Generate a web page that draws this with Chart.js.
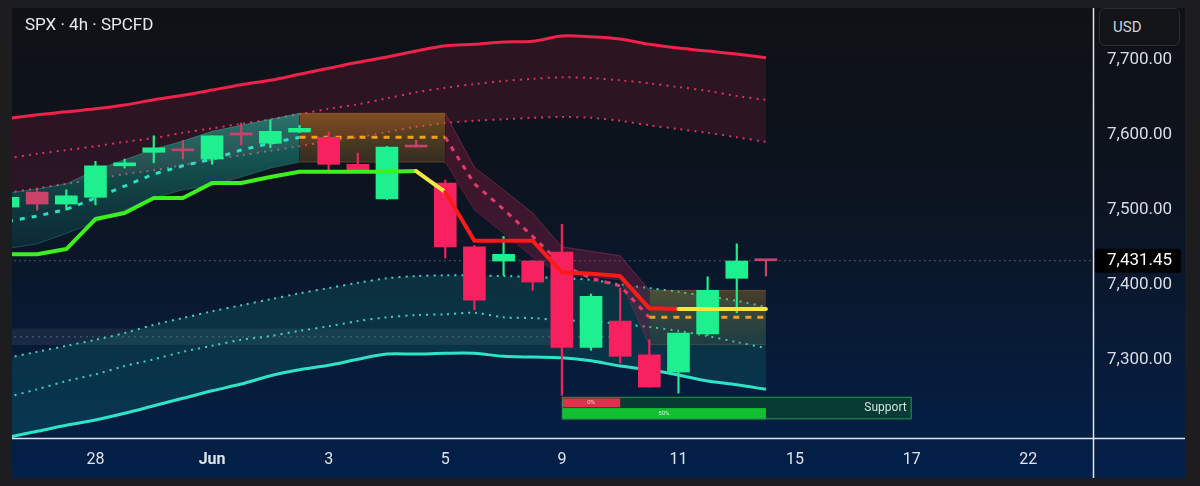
<!DOCTYPE html>
<html>
<head>
<meta charset="utf-8">
<script src="https://cdn.jsdelivr.net/npm/chart.js@4.4.1/dist/chart.umd.min.js"></script>
<style>
html,body{margin:0;padding:0;width:1200px;height:486px;overflow:hidden;background:#1d1d1f;font-family:Roboto,"Noto Sans",sans-serif}
#wrap{position:absolute;left:12px;top:8px;width:1173px;height:470px;background:linear-gradient(#0f1115 0%,#0c1420 40%,#03204a 100%)}
#title{position:absolute;left:13px;top:6px;color:#e8eaed;font-size:17px;white-space:nowrap}
#usd{position:absolute;left:1087px;top:0;width:79px;height:36px;background:#121417;border:1px solid #2a2d33;border-radius:6px;color:#d0d4da;font-size:15px;line-height:36px}
#usd span{margin-left:13px}
</style>
</head>
<body>
<div id="wrap">
  <canvas id="chart"></canvas>
  <div id="title">SPX · 4h · SPCFD</div>
  <div id="usd"><span>USD</span></div>
</div>
<script>
// 4h bars, index 0 = first bar on screen (May 27, 2nd session)
var opens  = [7503,7523,7507,7516,7558,7576,7580,7567,7602,7588,7603,7596,7560,7514,7584,7535,7450,7431,7431,7443,7316,7351,7306,7283,7334,7408,7432.4];
var highs  = [7522,7528,7526,7564,7567,7598,7592,7598,7615,7619,7612,7603,7575,7584,7592,7539,7452,7464,7432,7480,7387,7395,7326,7335,7410,7454,7432.4];
var lows   = [7499,7499,7499,7506,7555,7562,7567,7560,7586,7582,7602,7551,7552,7513,7583,7435,7366,7412,7392,7252,7312,7295,7263,7255,7332,7362,7411];
var closes = [7516,7507,7518,7558,7562,7582,7578,7598,7599,7604,7608,7560,7552,7583,7583,7450,7379,7440,7403,7316,7384,7304,7263,7335,7392,7431,7431.45];
var lastPrice = 7431.45;

var tickIdx    = [3,7,11,15,19,23,27,31,35];
var tickLabels = ['28','Jun','3','5','9','11','15','17','22'];
var priceTicks = [7300,7400,7500,7600,7700];

// upper envelope (red) and lower envelope (teal)
var upperLine = [7621,7626,7630,7634,7639,7646,7652,7659,7666,7672,7680,7688,7696,7703,7711,7718,7720,7723,7724,7731,7730,7727,7720,7715,7711,7707,7702];
var upperMid  = [7568,7574,7579,7584,7590,7595,7602,7608,7614,7620,7627,7634,7640,7648,7656,7662,7667,7671,7674,7676,7675,7672,7668,7663,7658,7651,7646];
var upperLow  = [7522,7528,7534,7540,7547,7552,7559,7566,7572,7578,7584,7591,7596,7603,7610,7615,7618,7620,7622,7623,7622,7618,7612,7607,7602,7596,7590];
var lowerLine = [7196,7204,7212,7219,7228,7238,7248,7258,7267,7278,7286,7292,7300,7307,7307,7308,7308,7304,7303,7302,7298,7291,7286,7279,7271,7266,7260];
var lowerMid  = [7250,7260,7271,7280,7291,7300,7310,7318,7326,7331,7338,7344,7351,7356,7359,7360,7362,7356,7355,7352,7351,7347,7343,7338,7331,7323,7315];
var lowerHigh = [7302,7310,7318,7326,7335,7346,7355,7364,7372,7380,7388,7395,7402,7408,7411,7412,7412,7411,7410,7408,7406,7400,7395,7390,7384,7378,7370];

// trailing stop and its state (1 long, 0 flip, -1 short)
var trendLine = [7440,7440,7447,7487,7495,7515,7515,7535,7535,7543,7550,7550,7550,7550,7551,7523,7458,7458,7458,7416,7414,7411,7368,7367,7367,7367,7367];
var trendSide = [1,1,1,1,1,1,1,1,1,1,1,1,1,1,0,-1,-1,-1,-1,-1,-1,-1,-1,0,0,0,0];

// rising channel, bars 0..10
var channelTop = [7522,7527,7534,7552,7566,7580,7591,7604,7612,7620,7628];
var channelMid = [7484,7491,7500,7515,7531,7547,7558,7567,7579,7588,7596];
var channelBot = [7448,7454,7468,7483,7499,7515,7526,7532,7543,7555,7563];

// falling band, bars 15..22
var dropTop = [7628,7556,7526,7495,7450,7444,7438,7392];
var dropMid = [7596,7534,7500,7464,7426,7408,7398,7356];
var dropBot = [7563,7499,7468,7436,7412,7410,7406,7319];

// zones: [first bar, last bar, top, mid, bottom]
var zoneA = [10,15,7628,7596,7563];
var zoneB = [22,26,7392,7356,7320];
var grayZone = [0,19,7341,7330,7319];

// support meter: [first bar, last bar, top, bottom]
var supportBox = [19,31,7250,7220];
var meterSell  = [19,21,7248,7236];
var meterBuy   = [19,26,7235,7220];
var meterText  = ['0%','50%','Support'];

function pts(values, start) {
  return values.map(function (v, i) { return {x: start + i, y: v}; });
}
function flat(first, last, v) {
  return [{x: first, y: v}, {x: last, y: v}];
}
function line(data, opts) {
  return Object.assign({type: 'line', data: data, pointRadius: 0, borderWidth: 1, fill: false, tension: 0}, opts);
}
function vGrad(top, bottom, c0, c1) {
  return function (c) {
    var ch = c.chart;
    if (!ch.chartArea) return c0;
    var y = ch.scales.y;
    var g = ch.ctx.createLinearGradient(0, y.getPixelForValue(top), 0, y.getPixelForValue(bottom));
    g.addColorStop(0, c0);
    g.addColorStop(1, c1);
    return g;
  };
}

var up = '#1ff08f', down = '#f7215f', muted = '#c8426a';
var bodyColors = opens.map(function (o, i) {
  if (closes[i] >= o) return up;
  return Math.abs(closes[i] - o) < 4 || i < 2 ? muted : down;
});

var datasets = [];
// gray zone
datasets.push(line(flat(grayZone[0], grayZone[1], grayZone[2]), {borderWidth: 0, fill: '+1', backgroundColor: 'rgba(140,150,165,0.13)', order: 100}));
datasets.push(line(flat(grayZone[0], grayZone[1], grayZone[4]), {borderWidth: 0, order: 100}));
datasets.push(line(flat(grayZone[0], 21, grayZone[3]), {borderColor: 'rgba(150,160,175,0.5)', borderDash: [2, 4], order: 99}));
// upper envelope
datasets.push(line(pts(upperLine, 0), {borderColor: '#f0224c', borderWidth: 3, tension: 0.3, fill: '+1', backgroundColor: 'rgba(105,26,52,0.33)', order: 90}));
datasets.push(line(pts(upperLow, 0), {borderColor: '#d8345f', borderWidth: 2, borderDash: [2, 5], tension: 0.3, order: 89}));
datasets.push(line(pts(upperMid, 0), {borderColor: '#d8345f', borderWidth: 2, borderDash: [2, 5], tension: 0.3, order: 89}));
// lower envelope
datasets.push(line(pts(lowerLine, 0), {borderColor: '#2fe3c6', borderWidth: 3, tension: 0.3, fill: '+1', backgroundColor: 'rgba(22,150,135,0.2)', order: 90}));
datasets.push(line(pts(lowerHigh, 0), {borderColor: '#42d2bc', borderWidth: 2, borderDash: [2, 5], tension: 0.3, order: 89}));
datasets.push(line(pts(lowerMid, 0), {borderColor: '#42d2bc', borderWidth: 2, borderDash: [2, 5], tension: 0.3, order: 89}));
// last price
datasets.push(line(flat(-1, 40, lastPrice), {borderColor: 'rgba(90,105,125,0.8)', borderDash: [2, 3], order: 85}));
// rising channel
datasets.push(line(pts(channelTop, 0), {borderColor: 'rgba(70,200,180,0.35)', fill: '+1', backgroundColor: vGrad(7628, 7450, 'rgba(40,210,180,0.5)', 'rgba(20,120,115,0.2)'), order: 80}));
datasets.push(line(pts(channelBot, 0), {borderColor: 'rgba(70,200,180,0.3)', order: 80}));
// zones
datasets.push(line(flat(zoneA[0], zoneA[1], zoneA[2]), {borderColor: 'rgba(200,140,60,0.35)', fill: '+1', backgroundColor: vGrad(zoneA[2], zoneA[4], 'rgba(195,125,30,0.55)', 'rgba(140,100,45,0.32)'), order: 80}));
datasets.push(line(flat(zoneA[0], zoneA[1], zoneA[4]), {borderColor: 'rgba(200,140,60,0.35)', order: 80}));
datasets.push(line(flat(zoneB[0], zoneB[1], zoneB[2]), {borderColor: 'rgba(200,140,60,0.3)', fill: '+1', backgroundColor: vGrad(zoneB[2], zoneB[4], 'rgba(180,130,40,0.38)', 'rgba(110,100,60,0.2)'), order: 80}));
datasets.push(line(flat(zoneB[0], zoneB[1], zoneB[4]), {borderColor: 'rgba(200,140,60,0.3)', order: 80}));
// falling band
datasets.push(line(pts(dropTop, 15), {borderColor: 'rgba(200,60,100,0.4)', fill: '+1', backgroundColor: 'rgba(175,30,75,0.3)', order: 80}));
datasets.push(line(pts(dropBot, 15), {borderColor: 'rgba(200,60,100,0.3)', order: 80}));
// dashed mid lines
datasets.push(line(pts(channelMid, 0), {borderColor: '#2ae0c0', borderWidth: 3, borderDash: [5, 7], order: 60}));
datasets.push(line(flat(zoneA[0], zoneA[1], zoneA[3]), {borderColor: '#f0a020', borderWidth: 3, borderDash: [6, 6], order: 60}));
datasets.push(line(flat(zoneB[0], zoneB[1], zoneB[3]), {borderColor: '#f0a020', borderWidth: 3, borderDash: [6, 6], order: 60}));
datasets.push(line(pts(dropMid, 15), {borderColor: '#e23a6c', borderWidth: 3, borderDash: [5, 6], order: 60}));
// candles
datasets.push({type: 'bar', data: opens.map(function (o, i) { return {x: i, y: [lows[i], highs[i]]}; }),
  backgroundColor: bodyColors, barThickness: 1.5, grouped: false, minBarLength: 1, order: 50});
datasets.push({type: 'bar', data: opens.map(function (o, i) { return {x: i, y: [o, closes[i]]}; }),
  backgroundColor: bodyColors, barThickness: 22, grouped: false, minBarLength: 2, order: 49});
// trailing stop
datasets.push(line(pts(trendLine, 0), {borderWidth: 4, borderCapStyle: 'round', borderJoinStyle: 'round', order: 30,
  borderColor: '#3cf01e',
  segment: {borderColor: function (c) {
    var s = trendSide[c.p0DataIndex];
    return s > 0 ? '#3cf01e' : (s < 0 ? '#ff1a1a' : '#f5e642');
  }}}));

var overlay = {
  id: 'overlay',
  afterDatasetsDraw: function (chart) {
    var ctx = chart.ctx, x = chart.scales.x, y = chart.scales.y;
    ctx.save();
    var bx0 = x.getPixelForValue(supportBox[0]), bx1 = x.getPixelForValue(supportBox[1]);
    var by0 = y.getPixelForValue(supportBox[2]), by1 = y.getPixelForValue(supportBox[3]);
    ctx.fillStyle = 'rgba(10,70,50,0.75)';
    ctx.fillRect(bx0, by0, bx1 - bx0, by1 - by0);
    var sx1 = x.getPixelForValue(meterSell[1]);
    var sy0 = y.getPixelForValue(meterSell[2]), sy1 = y.getPixelForValue(meterSell[3]);
    ctx.fillStyle = '#e0304c';
    ctx.fillRect(bx0, sy0, sx1 - bx0, sy1 - sy0);
    var gx1 = x.getPixelForValue(meterBuy[1]);
    var gy0 = y.getPixelForValue(meterBuy[2]), gy1 = y.getPixelForValue(meterBuy[3]);
    ctx.fillStyle = '#12c032';
    ctx.fillRect(bx0, gy0, gx1 - bx0, gy1 - gy0);
    ctx.strokeStyle = '#1e9a48';
    ctx.lineWidth = 1;
    ctx.strokeRect(bx0 + 0.5, by0 + 0.5, bx1 - bx0 - 1, by1 - by0 - 1);
    ctx.textBaseline = 'middle';
    ctx.textAlign = 'center';
    ctx.font = '6px Roboto';
    ctx.fillStyle = '#f3d6da';
    ctx.fillText(meterText[0], (bx0 + sx1) / 2, (sy0 + sy1) / 2);
    ctx.fillStyle = '#d6f3da';
    ctx.fillText(meterText[1], (bx0 + gx1) / 2, (gy0 + gy1) / 2);
    ctx.textAlign = 'right';
    ctx.font = '12px Roboto';
    ctx.fillStyle = '#cfe3da';
    ctx.fillText(meterText[2], bx1 - 5, (by0 + by1) / 2);
    ctx.restore();
  },
  afterDraw: function (chart) {
    var ctx = chart.ctx, a = chart.chartArea, y = chart.scales.y;
    ctx.save();
    ctx.strokeStyle = '#e2e4e8';
    ctx.lineWidth = 1.5;
    ctx.beginPath();
    ctx.moveTo(a.right + 0.5, 0);
    ctx.lineTo(a.right + 0.5, chart.height);
    ctx.moveTo(0, a.bottom + 0.5);
    ctx.lineTo(chart.width, a.bottom + 0.5);
    ctx.stroke();
    var py = y.getPixelForValue(lastPrice);
    ctx.fillStyle = '#000';
    ctx.beginPath();
    ctx.roundRect(a.right + 2, py - 12, 86, 24, 3);
    ctx.fill();
    ctx.fillStyle = '#ffffff';
    ctx.font = '17px Roboto';
    ctx.textBaseline = 'middle';
    ctx.textAlign = 'left';
    ctx.fillText(lastPrice.toLocaleString('en-US', {minimumFractionDigits: 2}), a.right + 14, py);
    ctx.restore();
  }
};

new Chart(document.getElementById('chart'), {
  type: 'line',
  data: {datasets: datasets},
  plugins: [overlay],
  options: {
    responsive: true,
    maintainAspectRatio: false,
    animation: false,
    layout: {padding: 0},
    plugins: {legend: {display: false}, tooltip: {enabled: false}},
    scales: {
      x: {
        type: 'linear', min: 0.137, max: 37.22, offset: false,
        grid: {display: false, drawTicks: false}, border: {display: false},
        afterBuildTicks: function (s) { s.ticks = tickIdx.map(function (v) { return {value: v}; }); },
        afterFit: function (s) { s.height = 40; s.paddingLeft = 0; s.paddingRight = 0; },
        ticks: {
          autoSkip: false, maxRotation: 0, padding: 12, color: '#dfe3ea',
          font: function (c) {
            var k = c.tick ? tickIdx.indexOf(c.tick.value) : -1;
            var bold = k >= 0 && isNaN(Number(tickLabels[k]));
            return {family: 'Roboto', size: 16, weight: bold ? 'bold' : 'normal'};
          },
          callback: function (v) { return tickLabels[tickIdx.indexOf(v)]; }
        }
      },
      y: {
        type: 'linear', position: 'right', min: 7195.1, max: 7768.4,
        grid: {display: false, drawTicks: false}, border: {display: false},
        afterBuildTicks: function (s) { s.ticks = priceTicks.map(function (v) { return {value: v}; }); },
        afterFit: function (s) { s.width = 92; s.paddingTop = 0; s.paddingBottom = 0; },
        ticks: {
          padding: 14, color: '#d8dde6', font: {family: 'Roboto', size: 17},
          callback: function (v) { return v.toLocaleString('en-US', {minimumFractionDigits: 2}); }
        }
      }
    }
  }
});
</script>
</body>
</html>
